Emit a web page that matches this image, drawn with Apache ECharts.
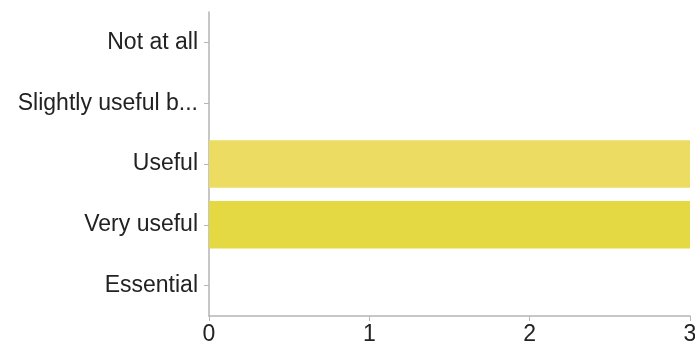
<!DOCTYPE html>
<html><head><meta charset="utf-8">
<script src="https://cdn.jsdelivr.net/npm/echarts@6/dist/echarts.min.js"></script>
<style>html,body{margin:0;padding:0;background:#fff}#c{width:695px;height:349px}</style>
</head><body><div id="c"></div>
<script>
const categories = ["Not at all", "Slightly useful b...", "Useful", "Very useful", "Essential"];
const counts = [0, 0, 3, 3, 0];
const barColors = ["#ecdc62", "#ecdc62", "#ecdd62", "#e4d942", "#e4d942"];
const xTicks = [0, 1, 2, 3];

const FONT = 'Liberation Sans, Arial, Helvetica, sans-serif';
const chart = echarts.init(document.getElementById('c'));
chart.setOption({
  animation: false,
  grid: { left: 209, right: 5, top: 12, bottom: 33, containLabel: false, outerBoundsMode: 'none' },
  xAxis: {
    type: 'value', min: xTicks[0], max: xTicks[xTicks.length - 1], interval: 1,
    axisLine: { show: true, lineStyle: { color: '#b5b5b5', width: 1.5 } },
    axisTick: { show: true, length: 5, lineStyle: { color: '#b5b5b5' } },
    splitLine: { show: false },
    axisLabel: { color: '#222', fontSize: 23, fontFamily: FONT, margin: 7 }
  },
  yAxis: {
    type: 'category', data: categories, inverse: true,
    axisLine: { show: true, lineStyle: { color: '#b5b5b5', width: 1.5 } },
    axisTick: { show: true, alignWithLabel: true, length: 5, lineStyle: { color: '#b5b5b5' } },
    axisLabel: { color: '#222', fontSize: 23, fontFamily: FONT, margin: 11, padding: [3, 0, 0, 0] }
  },
  series: [{
    type: 'bar',
    data: counts.map((v, i) => ({ value: v, itemStyle: { color: barColors[i] } })),
    barWidth: '78%'
  }]
});
</script>
</body></html>
